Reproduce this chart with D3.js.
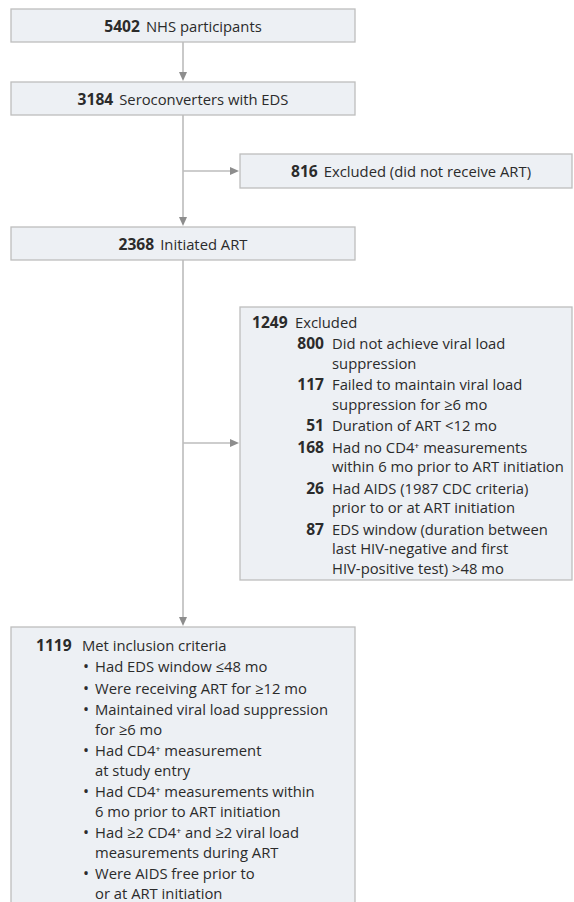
<!DOCTYPE html>
<html>
    <head>
        <script src="https://cdn.jsdelivr.net/npm/d3@7"></script>
        <style>
            body { margin: 0; background: #fff; }
            svg { display: block; }
            text { font-family: "Open Sans", sans-serif; font-size: 14.8px; fill: #2b2b2b; }
            .num { font-weight: bold; font-size: 15.6px; }
            .box { fill: #edf0f4; stroke: #bdbdbd; stroke-width: 1.3; }
            .flow { stroke: #bcbcbc; stroke-width: 1.6; fill: none; }
            .head { fill: #8d8d8d; }
        </style>
    </head>
    <body>
        <svg width="574" height="902"></svg>
    </body>
    <script>
        // flow counts and labels
        const mainCounts = [5402, 3184, 2368, 1119];
        const mainLabels = ["NHS participants", "Seroconverters with EDS", "Initiated ART", "Met inclusion criteria"];
        const sideCounts = [816, 1249];
        const sideLabels = ["Excluded (did not receive ART)", "Excluded"];

        const reasonCounts = [800, 117, 51, 168, 26, 87];
        const reasonLines = [
            ["Did not achieve viral load", "suppression"],
            ["Failed to maintain viral load", "suppression for \u22656 mo"],
            ["Duration of ART <12 mo"],
            ["Had no CD4\u207A measurements", "within 6 mo prior to ART initiation"],
            ["Had AIDS (1987 CDC criteria)", "prior to or at ART initiation"],
            ["EDS window (duration between", "last HIV-negative and first", "HIV-positive test) >48 mo"]
        ];
        const criteriaLines = [
            ["Had EDS window \u226448 mo"],
            ["Were receiving ART for \u226512 mo"],
            ["Maintained viral load suppression", "for \u22656 mo"],
            ["Had CD4\u207A measurement", "at study entry"],
            ["Had CD4\u207A measurements within", "6 mo prior to ART initiation"],
            ["Had \u22652 CD4\u207A and \u22652 viral load", "measurements during ART"],
            ["Were AIDS free prior to", "or at ART initiation"]
        ];

        const svg = d3.select("svg");

        // box geometry
        const mainX = 11, mainW = 344, sideX = 240, sideW = 332;
        const stemX = mainX + mainW / 2;
        const mainBoxes = [
            {y: 9, h: 33},
            {y: 82, h: 33},
            {y: 227, h: 33},
            {y: 627, h: 290}
        ];
        const sideBoxes = [
            {y: 154, h: 34},
            {y: 307, h: 273}
        ];

        const lineH = 19.6, itemGap = 1.8;

        // arrowhead
        function head(x, y, dir) {
            const p = dir === "down"
                ? [[x - 4, y - 9], [x + 4, y - 9], [x, y]]
                : [[x - 9, y - 4], [x - 9, y + 4], [x, y]];
            svg.append("path").attr("class", "head").attr("d", d3.line()(p) + "Z");
        }

        function stem(y1, y2) {
            svg.append("line").attr("class", "flow")
                .attr("x1", stemX).attr("x2", stemX).attr("y1", y1).attr("y2", y2 - 6);
            head(stemX, y2 - 1, "down");
        }

        stem(mainBoxes[0].y + mainBoxes[0].h, mainBoxes[1].y);
        stem(mainBoxes[1].y + mainBoxes[1].h, mainBoxes[2].y);
        stem(mainBoxes[2].y + mainBoxes[2].h, mainBoxes[3].y);

        sideBoxes.forEach((b, i) => {
            const y = i === 0 ? b.y + b.h / 2 : 443;
            svg.append("line").attr("class", "flow")
                .attr("x1", stemX).attr("x2", sideX - 6).attr("y1", y).attr("y2", y);
            head(sideX - 1, y, "right");
        });

        // boxes
        svg.selectAll("rect.main").data(mainBoxes).join("rect")
            .attr("class", "box")
            .attr("x", mainX).attr("y", d => d.y)
            .attr("width", mainW).attr("height", d => d.h);
        svg.selectAll("rect.side").data(sideBoxes).join("rect")
            .attr("class", "box")
            .attr("x", sideX).attr("y", d => d.y)
            .attr("width", sideW).attr("height", d => d.h);

        // centred one-line labels
        function centred(x, y, n, label) {
            const t = svg.append("text").attr("x", x).attr("y", y)
                .attr("text-anchor", "middle").attr("dominant-baseline", "central");
            t.append("tspan").attr("class", "num").text(n);
            t.append("tspan").attr("dx", 6).text(label);
        }
        [0, 1, 2].forEach(i => {
            const b = mainBoxes[i];
            centred(stemX, b.y + b.h / 2, mainCounts[i], mainLabels[i]);
        });
        centred(sideX + sideW / 2 + 5, sideBoxes[0].y + sideBoxes[0].h / 2, sideCounts[0], sideLabels[0]);

        // exclusion list
        const ex = sideBoxes[1];
        let y = ex.y + 15;
        svg.append("text").attr("class", "num").attr("x", 252).attr("y", y)
            .attr("dominant-baseline", "central").text(sideCounts[1]);
        svg.append("text").attr("x", 295).attr("y", y)
            .attr("dominant-baseline", "central").text(sideLabels[1]);
        y += lineH + itemGap;
        reasonCounts.forEach((n, i) => {
            svg.append("text").attr("class", "num").attr("x", 324).attr("y", y)
                .attr("text-anchor", "end").attr("dominant-baseline", "central").text(n);
            reasonLines[i].forEach((s, j) => {
                svg.append("text").attr("x", 332).attr("y", y + j * lineH)
                    .attr("dominant-baseline", "central").text(s);
            });
            y += reasonLines[i].length * lineH + itemGap;
        });

        // inclusion criteria
        const inc = mainBoxes[3];
        y = inc.y + 18;
        svg.append("text").attr("class", "num").attr("x", 36).attr("y", y)
            .attr("dominant-baseline", "central").text(mainCounts[3]);
        svg.append("text").attr("x", 82).attr("y", y)
            .attr("dominant-baseline", "central").text(mainLabels[3]);
        y += lineH + itemGap;
        criteriaLines.forEach(lines => {
            svg.append("text").attr("x", 83).attr("y", y)
                .attr("dominant-baseline", "central").style("font-size", "16px").text("\u2022");
            lines.forEach((s, j) => {
                svg.append("text").attr("x", 95).attr("y", y + j * lineH)
                    .attr("dominant-baseline", "central").text(s);
            });
            y += lines.length * lineH + itemGap;
        });
    </script>
</html>
